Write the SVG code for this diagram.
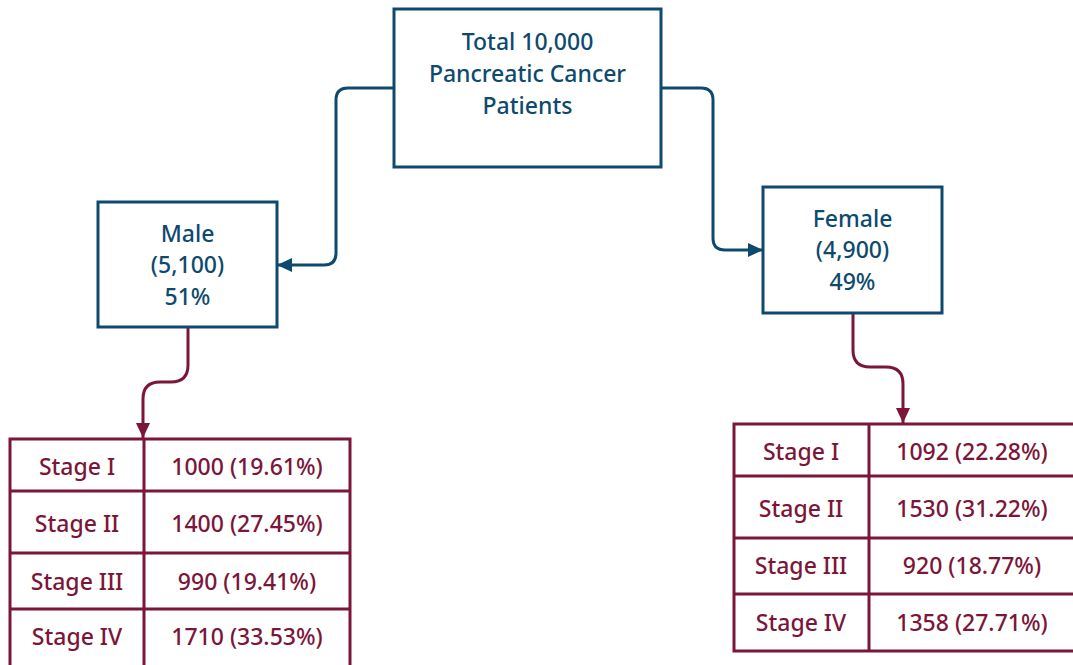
<svg xmlns="http://www.w3.org/2000/svg" width="1073" height="665" viewBox="0 0 1073 665">
<style>
.bx{fill:#fff;stroke:#0e4a6e;stroke-width:3}
.tb{fill:#fff;stroke:#7b1639;stroke-width:3}
.bt{font-family:"Noto Sans","Open Sans",sans-serif;font-size:23px;font-weight:500;fill:#0e4a6e;text-anchor:middle}
.tt{font-family:"Noto Sans","Open Sans",sans-serif;font-size:23px;font-weight:500;fill:#7b1639;text-anchor:middle}
.cb{fill:none;stroke:#0e4a6e;stroke-width:3}
.cm{fill:none;stroke:#7b1639;stroke-width:3}
</style>
<defs>
<marker id="ab" viewBox="0 0 15 14" refX="15" refY="7" markerWidth="15" markerHeight="14" markerUnits="userSpaceOnUse" orient="auto"><path d="M0,0L15,7L0,14Z" fill="#0e4a6e"/></marker>
<marker id="am" viewBox="0 0 15 14" refX="15" refY="7" markerWidth="15" markerHeight="14" markerUnits="userSpaceOnUse" orient="auto"><path d="M0,0L15,7L0,14Z" fill="#7b1639"/></marker>
</defs>
<rect width="1073" height="665" fill="#fff"/>
<g id="connectors">
<path class="cb" d="M394,88H348Q336,88 336,100V253Q336,265 324,265H277" marker-end="url(#ab)"/>
<path class="cb" d="M661,88H701Q713,88 713,100V238Q713,250 725,250H763" marker-end="url(#ab)"/>
<path class="cm" d="M188,327V365Q188,382 171,382H160Q143,382 143,399V438" marker-end="url(#am)"/>
<path class="cm" d="M853,313V350Q853,367 870,367H886Q903,367 903,384V423" marker-end="url(#am)"/>
</g>
<g id="total">
<rect class="bx" x="394" y="9" width="267" height="158"/>
<text class="bt" x="527.5" y="50">Total 10,000</text>
<text class="bt" x="527.5" y="82">Pancreatic Cancer</text>
<text class="bt" x="527.5" y="114">Patients</text>
</g>
<g id="male">
<rect class="bx" x="98" y="202" width="179" height="125"/>
<text class="bt" x="187.5" y="242">Male</text>
<text class="bt" x="187.5" y="273">(5,100)</text>
<text class="bt" x="187.5" y="305">51%</text>
</g>
<g id="female">
<rect class="bx" x="763" y="187" width="179" height="126"/>
<text class="bt" x="852.5" y="227">Female</text>
<text class="bt" x="852.5" y="258">(4,900)</text>
<text class="bt" x="852.5" y="290">49%</text>
</g>
<g id="male-table">
<rect class="tb" x="10" y="439" width="340" height="240"/>
<path class="tb" d="M144,439V679M10,491H350M10,553H350M10,609H350"/>
<text class="tt" x="77" y="475">Stage I</text>
<text class="tt" x="247" y="475">1000 (19.61%)</text>
<text class="tt" x="77" y="532">Stage II</text>
<text class="tt" x="247" y="532">1400 (27.45%)</text>
<text class="tt" x="77" y="590">Stage III</text>
<text class="tt" x="247" y="590">990 (19.41%)</text>
<text class="tt" x="77" y="645">Stage IV</text>
<text class="tt" x="247" y="645">1710 (33.53%)</text>
</g>
<g id="female-table">
<rect class="tb" x="734" y="424" width="350" height="227"/>
<path class="tb" d="M869,424V651M734,476H1084M734,538H1084M734,594H1084"/>
<text class="tt" x="801" y="460">Stage I</text>
<text class="tt" x="972" y="460">1092 (22.28%)</text>
<text class="tt" x="801" y="517">Stage II</text>
<text class="tt" x="972" y="517">1530 (31.22%)</text>
<text class="tt" x="801" y="574">Stage III</text>
<text class="tt" x="972" y="574">920 (18.77%)</text>
<text class="tt" x="801" y="631">Stage IV</text>
<text class="tt" x="972" y="631">1358 (27.71%)</text>
</g>
</svg>
